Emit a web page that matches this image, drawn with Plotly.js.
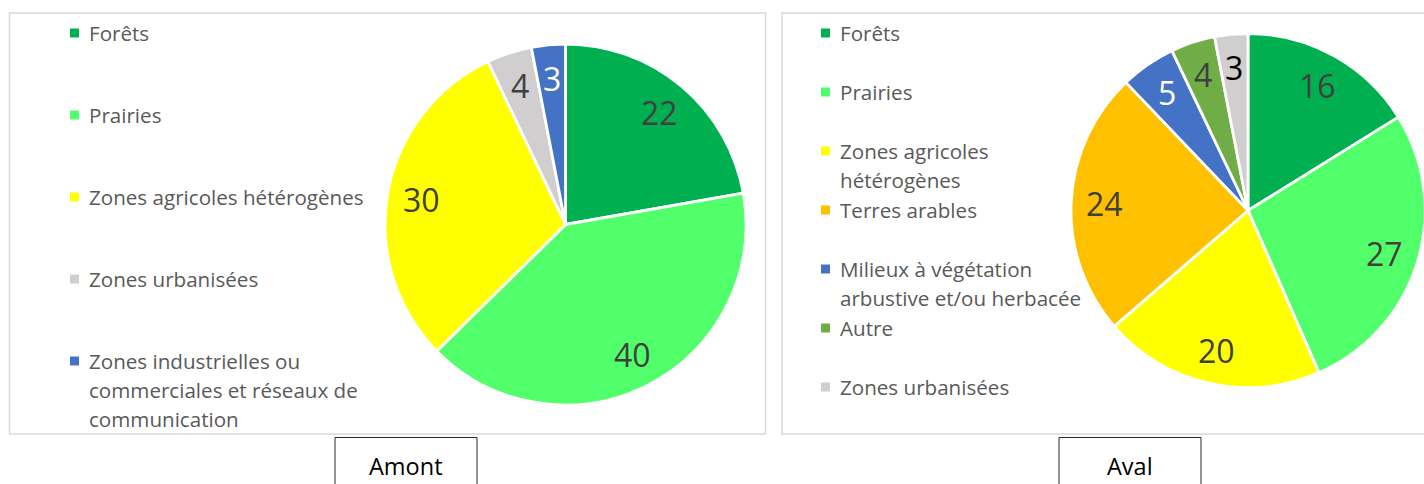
<!DOCTYPE html>
<html>
<head>
<meta charset="utf-8">
<script src="https://cdn.plot.ly/plotly-3.0.1.min.js"></script>
<style>
  html, body { margin: 0; padding: 0; background: #ffffff; overflow: hidden; }
  #chart { width: 1440px; height: 484px; }
</style>
</head>
<body>
<div id="chart"></div>
<script>
// ---------- data ----------
const amontLabels = ['Forêts', 'Prairies', 'Zones agricoles hétérogènes', 'Zones urbanisées',
  'Zones industrielles ou commerciales et réseaux de communication'];
const amontLegendLines = [['Forêts'], ['Prairies'], ['Zones agricoles hétérogènes'], ['Zones urbanisées'],
  ['Zones industrielles ou', 'commerciales et réseaux de', 'communication']];
const amontValues = [22, 40, 30, 4, 3];
const amontColors = ['#00B050', '#50FF69', '#FFFF00', '#D0CECE', '#4472C4'];
const amontTextColors = ['#404040', '#404040', '#404040', '#404040', '#FFFFFF'];

const avalLabels = ['Forêts', 'Prairies', 'Zones agricoles hétérogènes', 'Terres arables',
  'Milieux à végétation arbustive et/ou herbacée', 'Autre', 'Zones urbanisées'];
const avalLegendLines = [['Forêts'], ['Prairies'], ['Zones agricoles', 'hétérogènes'], ['Terres arables'],
  ['Milieux à végétation', 'arbustive et/ou herbacée'], ['Autre'], ['Zones urbanisées']];
const avalValues = [16, 27, 20, 24, 5, 4, 3];
const avalColors = ['#00B050', '#50FF69', '#FFFF00', '#FFC000', '#4472C4', '#70AD47', '#D0CECE'];
const avalTextColors = ['#404040', '#404040', '#404040', '#404040', '#FFFFFF', '#404040', '#000000'];

const panelTitles = ['Amont', 'Aval'];

// ---------- layout helpers (pixels -> paper) ----------
const W = 1440, H = 484;
const px = x => x / W;
const py = y => 1 - y / H;
const FONT = 'Open Sans, Noto Sans, sans-serif';

const panels = [
  { labels: amontLabels, lines: amontLegendLines, values: amontValues, colors: amontColors, textColors: amontTextColors,
    cx: 565.5, cy: 224.5, r: 180.5, box: [9.5, 765.5], legX: 70, legY0: 33, legStep: 82, lineStep: 29,
    title: panelTitles[0], titleBox: [335, 477] },
  { labels: avalLabels, lines: avalLegendLines, values: avalValues, colors: avalColors, textColors: avalTextColors,
    cx: 1248, cy: 210.5, r: 177, box: [782, 1460], legX: 821, legY0: 33, legStep: 59, lineStep: 28.5,
    title: panelTitles[1], titleBox: [1059, 1201] }
];

const traces = [];
const shapes = [];
const annotations = [];

panels.forEach(p => {
  // panel frame
  shapes.push({ type: 'rect', xref: 'paper', yref: 'paper', layer: 'below',
    x0: px(p.box[0]), x1: px(p.box[1]), y0: py(434), y1: py(13),
    line: { color: '#D9D9D9', width: 1.5 }, fillcolor: 'rgba(0,0,0,0)' });
  // title box
  shapes.push({ type: 'rect', xref: 'paper', yref: 'paper',
    x0: px(p.titleBox[0]), x1: px(p.titleBox[1]), y0: py(495), y1: py(437.5),
    line: { color: '#262626', width: 1 }, fillcolor: 'rgba(0,0,0,0)' });
  annotations.push({ xref: 'paper', yref: 'paper', x: px((p.titleBox[0] + p.titleBox[1]) / 2), y: py(466),
    xanchor: 'center', yanchor: 'middle', showarrow: false, text: p.title,
    font: { family: FONT, size: 23.5, color: '#000000' } });

  // pie
  traces.push({
    type: 'pie', labels: p.labels, values: p.values, sort: false, direction: 'clockwise', rotation: 0,
    marker: { colors: p.colors, line: { color: '#FFFFFF', width: 2.8 } },
    textinfo: 'none', hoverinfo: 'label+value', showlegend: false,
    domain: { x: [px(p.cx - p.r), px(p.cx + p.r)], y: [py(p.cy + p.r), py(p.cy - p.r)] }
  });

  // data labels, positioned from the values
  const total = p.values.reduce((a, b) => a + b, 0);
  let cum = 0;
  p.values.forEach((v, i) => {
    const mid = (cum + v / 2) / total * 2 * Math.PI;
    cum += v;
    const d = 0.81 * p.r;
    annotations.push({ xref: 'paper', yref: 'paper', x: px(p.cx), y: py(p.cy),
      xshift: d * Math.sin(mid), yshift: d * Math.cos(mid),
      xanchor: 'center', yanchor: 'middle', showarrow: false, text: String(v),
      font: { family: FONT, size: 32, color: p.textColors[i] } });
  });

  // legend
  p.lines.forEach((lines, i) => {
    const yc = p.legY0 + i * p.legStep;
    shapes.push({ type: 'rect', xref: 'paper', yref: 'paper',
      x0: px(p.legX), x1: px(p.legX + 9), y0: py(yc + 4.5), y1: py(yc - 4.5),
      line: { width: 0 }, fillcolor: p.colors[i] });
    lines.forEach((t, j) => {
      annotations.push({ xref: 'paper', yref: 'paper', x: px(p.legX + 17), y: py(yc + j * p.lineStep),
        xanchor: 'left', yanchor: 'middle', showarrow: false, text: t,
        font: { family: FONT, size: 20.6, color: '#595959' } });
    });
  });
});

const layout = {
  width: W, height: H,
  margin: { l: 0, r: 0, t: 0, b: 0 },
  paper_bgcolor: '#FFFFFF',
  showlegend: false,
  shapes: shapes,
  annotations: annotations
};

Plotly.newPlot('chart', traces, layout, { displayModeBar: false, staticPlot: true });
</script>
</body>
</html>
